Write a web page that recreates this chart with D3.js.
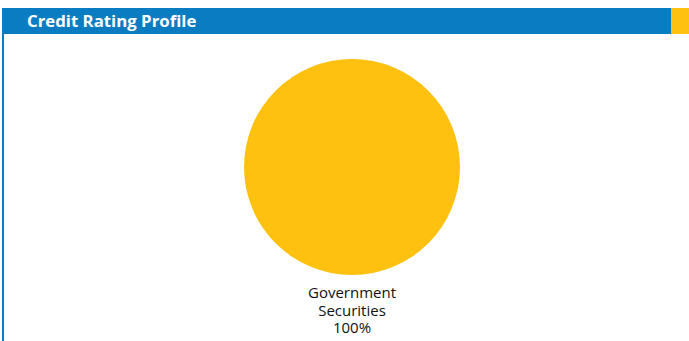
<!DOCTYPE html>
<html><head><meta charset="utf-8">
<script src="https://cdn.jsdelivr.net/npm/d3@7"></script>
<style>html,body{margin:0;padding:0;background:#fff;}svg{display:block;}</style>
</head><body>
<svg id="chart" width="689" height="341"></svg>
<script>
const title = "Credit Rating Profile";
const categories = ["Government Securities"];
const values = [100];
const labelLines = [["Government", "Securities", "100%"]];
const colors = ["#FEC110"];

const svg = d3.select("#chart");
const W = 689, H = 341;

// header
svg.append("rect").attr("x", 2).attr("y", 8).attr("width", 669).attr("height", 26).attr("fill", "#0A7DC2");
svg.append("rect").attr("x", 671).attr("y", 8).attr("width", 18).attr("height", 26).attr("fill", "#FEC110");
svg.append("rect").attr("x", 2).attr("y", 34).attr("width", 2).attr("height", H - 34).attr("fill", "#0A7DC2");
svg.append("text").attr("x", 27).attr("y", 27).attr("fill", "#fff")
  .attr("font-family", "'Open Sans', sans-serif").attr("font-weight", "bold").attr("font-size", 16.8)
  .text(title);

const cx = 352, cy = 167, r = 108;
const pie = d3.pie().sort(null).value(d => d);
const arc = d3.arc().innerRadius(0).outerRadius(r);
const g = svg.append("g").attr("transform", `translate(${cx},${cy})`);
g.selectAll("path").data(pie(values)).join("path")
  .attr("d", arc).attr("fill", (d, i) => colors[i]);

const lab = svg.append("text").attr("text-anchor", "middle")
  .attr("font-family", "'Open Sans', sans-serif").attr("font-size", 15).attr("fill", "#111");
labelLines[0].forEach((t, i) => {
  lab.append("tspan").attr("x", cx).attr("y", 298 + i * 17.5).text(t);
});
</script>
</body></html>
